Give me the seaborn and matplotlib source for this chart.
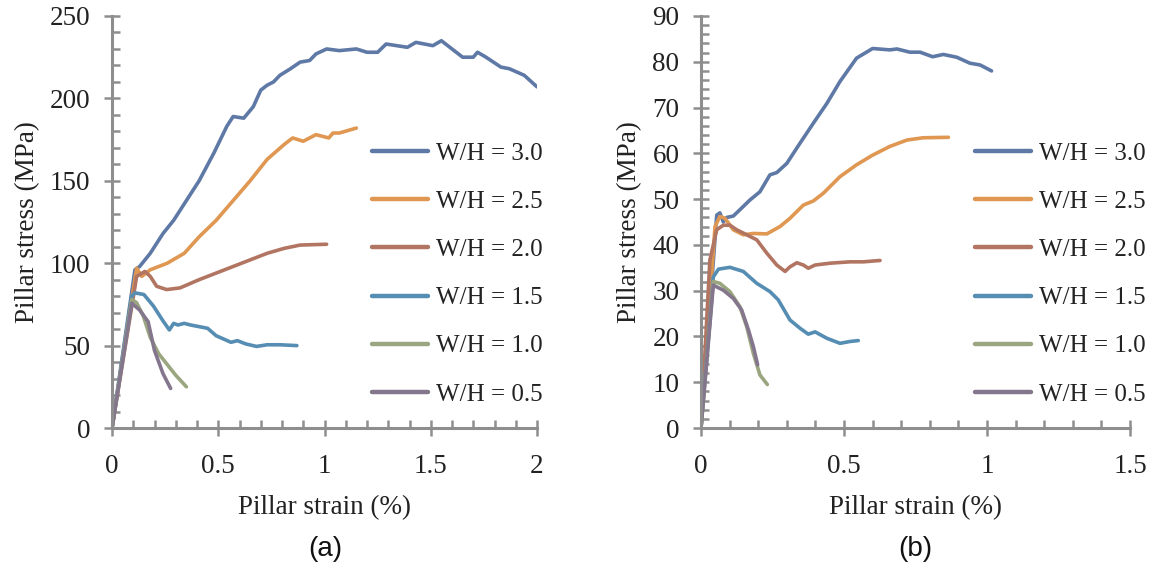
import numpy as np
import pandas as pd
import matplotlib
matplotlib.use("Agg")
import matplotlib.pyplot as plt
import seaborn as sns
from matplotlib.ticker import MultipleLocator, FuncFormatter

# ---------------- data ----------------
labels = ["W/H = 3.0", "W/H = 2.5", "W/H = 2.0", "W/H = 1.5", "W/H = 1.0", "W/H = 0.5"]
colors = ["#5f79a6", "#df9752", "#b17562", "#568db3", "#9aa67f", "#84768c"]

# panel (a)
a30_x = [0, 0.108, 0.13, 0.18, 0.24, 0.29, 0.35, 0.41, 0.48, 0.54, 0.57, 0.62, 0.665, 0.70, 0.73, 0.76, 0.79, 0.84,
         0.885, 0.93, 0.96, 1.01, 1.07, 1.15, 1.20, 1.25, 1.29, 1.39, 1.43, 1.51, 1.55, 1.59, 1.65, 1.70, 1.72, 1.76,
         1.83, 1.87, 1.94, 2.0]
a30_y = [0, 96, 98, 106, 118, 126, 138, 150, 167, 183, 189, 188, 195, 205, 208, 210, 214, 218,
         222, 223, 227, 230, 229, 230, 228, 228, 233, 231, 234, 232, 235, 231, 225, 225, 228, 225,
         219, 218, 214, 207]
a25_x = [0, 0.116, 0.14, 0.18, 0.26, 0.34, 0.41, 0.49, 0.57, 0.65, 0.73, 0.81, 0.85, 0.90, 0.96, 1.02, 1.04, 1.07, 1.15]
a25_y = [0, 97, 92, 96, 100, 106, 116, 126, 138, 150, 163, 172, 176, 174, 178, 176, 179, 179, 182]
a20_x = [0, 0.116, 0.155, 0.18, 0.21, 0.257, 0.32, 0.41, 0.49, 0.57, 0.65, 0.73, 0.81, 0.885, 1.01]
a20_y = [0, 92, 95, 92, 86, 84, 85, 90, 94, 98, 102, 106, 109, 111, 111.5]
a15_x = [0, 0.093, 0.108, 0.15, 0.195, 0.24, 0.27, 0.29, 0.31, 0.34, 0.37, 0.45, 0.49, 0.56, 0.59, 0.63, 0.68, 0.73,
         0.79, 0.87]
a15_y = [0, 80, 82, 81, 74, 65, 59.5, 63.5, 62.5, 63.5, 62.5, 60.5, 56, 52, 53, 51, 49.5, 50.5,
         50.5, 50]
a10_x = [0, 0.093, 0.116, 0.147, 0.18, 0.22, 0.257, 0.30, 0.35]
a10_y = [0, 78, 76, 68, 55, 45, 39, 32, 25]
a05_x = [0, 0.093, 0.13, 0.17, 0.20, 0.24, 0.276]
a05_y = [0, 75.7, 71.6, 64.5, 47, 33, 24]

# panel (b)
b30_x = [0, 0.055, 0.066, 0.078, 0.09, 0.113, 0.148, 0.171, 0.206, 0.241, 0.265, 0.30, 0.346, 0.393, 0.44, 0.486,
         0.544, 0.60, 0.66, 0.685, 0.73, 0.766, 0.81, 0.847, 0.894, 0.94, 0.976, 1.016]
b30_y = [0, 46.5, 47, 45, 46, 46.3, 48.4, 49.8, 51.6, 55.3, 55.8, 57.8, 62.2, 66.6, 70.9, 75.7,
         80.8, 82.9, 82.6, 82.8, 82.1, 82.1, 81.1, 81.6, 81.0, 79.7, 79.3, 78.0]
b25_x = [0, 0.049, 0.066, 0.084, 0.113, 0.148, 0.183, 0.23, 0.276, 0.311, 0.358, 0.393, 0.428, 0.486, 0.544, 0.60,
         0.66, 0.72, 0.777, 0.865]
b25_y = [0, 44, 46.2, 45.8, 43.3, 42.2, 42.5, 42.4, 44.0, 45.8, 48.7, 49.6, 51.3, 54.9, 57.5, 59.6,
         61.5, 62.9, 63.4, 63.5]
b20_x = [0, 0.031, 0.055, 0.078, 0.101, 0.125, 0.16, 0.195, 0.23, 0.265, 0.294, 0.311, 0.335, 0.358, 0.375, 0.399,
         0.451, 0.521, 0.568, 0.626]
b20_y = [0, 36.7, 43.3, 44.3, 44.3, 43.3, 42.2, 41.1, 38.2, 35.6, 34.2, 35.2, 36.1, 35.6, 34.9, 35.6,
         36.0, 36.3, 36.3, 36.6]
b15_x = [0, 0.043, 0.061, 0.101, 0.148, 0.195, 0.241, 0.27, 0.311, 0.346, 0.375, 0.399, 0.44, 0.486, 0.521, 0.55]
b15_y = [0, 33, 34.7, 35.1, 34.2, 31.6, 29.8, 28.0, 23.6, 21.8, 20.5, 21.0, 19.6, 18.5, 18.9, 19.1]
b10_x = [0, 0.043, 0.066, 0.101, 0.136, 0.16, 0.183, 0.206, 0.232]
b10_y = [0, 32, 31.6, 29.8, 26.5, 22.1, 16.3, 11.6, 9.5]
b05_x = [0, 0.043, 0.078, 0.113, 0.142, 0.166, 0.183, 0.198]
b05_y = [0, 31.2, 30.1, 28.3, 25.8, 21.4, 17.8, 13.8]

a_series = [(a30_x, a30_y), (a25_x, a25_y), (a20_x, a20_y), (a15_x, a15_y), (a10_x, a10_y), (a05_x, a05_y)]
b_series = [(b30_x, b30_y), (b25_x, b25_y), (b20_x, b20_y), (b15_x, b15_y), (b10_x, b10_y), (b05_x, b05_y)]


def long_df(series):
    rows = []
    for lab, (xs, ys) in zip(labels, series):
        for x, y in zip(xs, ys):
            rows.append({"strain": x, "stress": y, "WH": lab})
    return pd.DataFrame(rows)


sns.set_theme(style="white")
plt.rcParams["font.family"] = ["Liberation Serif", "DejaVu Serif"]
plt.rcParams["text.color"] = "#222222"
plt.rcParams["axes.labelcolor"] = "#222222"

W, H = 1158, 573
fig = plt.figure(figsize=(W / 100, H / 100), dpi=100)
ax1 = fig.add_axes([112 / W, 1 - 428 / H, 425 / W, 412 / H])
ax2 = fig.add_axes([701 / W, 1 - 428 / H, 429 / W, 412 / H])

palette = dict(zip(labels, colors))
grey = "#8e8e8e"
fmt = FuncFormatter(lambda v, p: f"{v:g}")


def style(ax, series, xlim, ylim, xmaj, xmin, ymaj, ymin, legend_anchor):
    df = long_df(series)
    sns.lineplot(data=df, x="strain", y="stress", hue="WH", hue_order=labels, palette=palette,
                 sort=False, estimator=None, linewidth=2.6, ax=ax, legend=True)
    ax.set_xlim(*xlim)
    ax.set_ylim(*ylim)
    ax.xaxis.set_major_locator(MultipleLocator(xmaj))
    ax.xaxis.set_minor_locator(MultipleLocator(xmin))
    ax.yaxis.set_major_locator(MultipleLocator(ymaj))
    ax.yaxis.set_minor_locator(MultipleLocator(ymin))
    ax.xaxis.set_major_formatter(fmt)
    ax.yaxis.set_major_formatter(fmt)
    for s in ["top", "right"]:
        ax.spines[s].set_visible(False)
    for s in ["left", "bottom"]:
        ax.spines[s].set_color(grey)
        ax.spines[s].set_linewidth(2.2)
    ax.tick_params(which="major", direction="inout", length=11, width=1.8, color=grey,
                   labelsize=19.5, pad=10, labelcolor="#222222")
    ax.tick_params(axis="x", which="major", pad=13)
    ax.tick_params(which="minor", direction="in", length=6, width=1.8, color=grey)
    ax.tick_params(axis="x", which="both", bottom=True)
    ax.tick_params(axis="y", which="both", left=True)
    ax.set_xlabel("Pillar strain (%)", fontsize=19.5, labelpad=12)
    ax.set_ylabel("Pillar stress (MPa)", fontsize=19.5, labelpad=7)
    handles, labs = ax.get_legend_handles_labels()
    for h in handles:
        h.set_linewidth(3.2)
    ax.legend(handles, labs, loc="upper left", bbox_to_anchor=legend_anchor,
              bbox_transform=fig.transFigure, frameon=False, fontsize=18,
              handlelength=2.25, handletextpad=0.3, labelspacing=1.03, borderpad=0, borderaxespad=0)
    ax.set_facecolor("white")


style(ax1, a_series, (0, 2), (0, 250), 0.5, 0.1, 50, 10, (372 / W, 1 - 142 / H))
style(ax2, b_series, (0, 1.5), (0, 90), 0.5, 0.1, 10, 2, (975 / W, 1 - 142 / H))

fig.text(325 / W, 1 - 549 / H, "(a)", ha="center", va="center", fontsize=20,
         family=["Liberation Sans", "DejaVu Sans"], color="#111111")
fig.text(915 / W, 1 - 549 / H, "(b)", ha="center", va="center", fontsize=20,
         family=["Liberation Sans", "DejaVu Sans"], color="#111111")

fig.savefig("out.png", dpi=100, facecolor="white")
